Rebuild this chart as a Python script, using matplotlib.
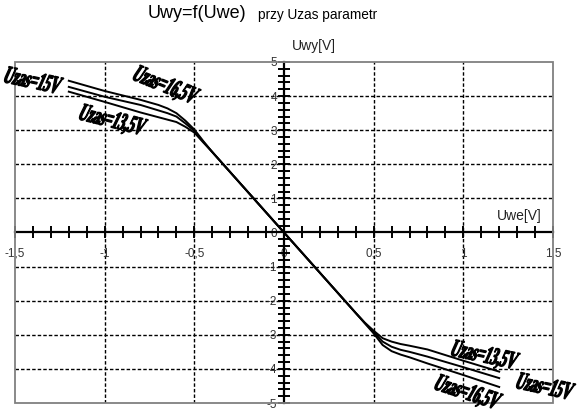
import matplotlib
matplotlib.use("Agg")
import matplotlib.pyplot as plt
import numpy as np
from matplotlib.textpath import TextPath
from matplotlib.patches import PathPatch, Rectangle
from matplotlib.font_manager import FontProperties
import matplotlib.transforms as mtransforms
from matplotlib.ticker import MultipleLocator, FixedLocator, FixedFormatter

# ---- data ----
uwe = [-1.2, -1.0, -0.8, -0.7, -0.65, -0.6, -0.55, -0.5, -0.45, -0.4, -0.2, 0.0,
       0.2, 0.4, 0.45, 0.5, 0.55, 0.6, 0.65, 0.7, 0.8, 1.0, 1.2]
uwy_16_5 = [4.45, 4.15, 3.89, 3.74, 3.64, 3.50, 3.28, 3.02, 2.68, 2.36, 1.18, 0.0,
            -1.18, -2.36, -2.66, -2.96, -3.30, -3.48, -3.58, -3.66, -3.84, -4.18, -4.53]
uwy_15 = [4.27, 3.98, 3.74, 3.58, 3.50, 3.40, 3.20, 2.98, 2.66, 2.36, 1.18, 0.0,
          -1.18, -2.36, -2.65, -2.92, -3.20, -3.35, -3.44, -3.50, -3.64, -3.95, -4.27]
uwy_13_5 = [4.13, 3.83, 3.52, 3.38, 3.31, 3.24, 3.10, 2.93, 2.64, 2.36, 1.18, 0.0,
            -1.18, -2.36, -2.64, -2.88, -3.10, -3.20, -3.27, -3.32, -3.43, -3.76, -4.08]

xtick_vals = [-1.5, -1.0, -0.5, 0.0, 0.5, 1.0, 1.5]
xtick_labels = ["-1,5", "-1", "-0,5", "0", "0,5", "1", "1,5"]
ytick_vals = [-5, -4, -3, -2, -1, 0, 1, 2, 3, 4, 5]
ytick_labels = [str(v) for v in ytick_vals]

# label texts, positions (data), rotation
curve_labels = ["Uzas=15V", "Uzas=16,5V", "Uzas=13,5V",
                "Uzas=13,5V", "Uzas=16,5V", "Uzas=15V"]
label_x = [-1.40, -0.664, -0.96, 1.115, 1.02, 1.455]
label_y = [4.47, 4.30, 3.27, -3.62, -4.71, -4.50]
label_rot = [-12, -22, -14, -12, -18, -12]

# ---- figure ----
fig = plt.figure(figsize=(5.79, 4.15), dpi=100)
ax = fig.add_axes([15/579, 12/415, (553-15)/579, (403-62)/415])
ax.set_xlim(-1.5, 1.5)
ax.set_ylim(-5, 5)

# grid
for gx in [-1.0, -0.5, 0.5, 1.0]:
    ax.axvline(gx, color="black", lw=1.0, ls=(0, (2.5, 1.5)), zorder=1)
for gy in [-4, -3, -2, -1, 1, 2, 3, 4]:
    ax.axhline(gy, color="black", lw=1.0, ls=(0, (2.5, 1.5)), zorder=1)

# curves
for ys in (uwy_16_5, uwy_15, uwy_13_5):
    ax.plot(uwe, ys, color="black", lw=1.4, zorder=3, solid_joinstyle="round")

# spines at zero
for s in ("top", "right"):
    ax.spines[s].set_visible(False)
ax.spines["left"].set_position(("data", 0))
ax.spines["bottom"].set_position(("data", 0))
ax.spines["left"].set_linewidth(1.6)
ax.spines["bottom"].set_linewidth(1.6)
ax.spines["left"].set_zorder(4)
ax.spines["bottom"].set_zorder(4)

ax.xaxis.set_major_locator(FixedLocator(xtick_vals))
ax.xaxis.set_major_formatter(FixedFormatter(xtick_labels))
ax.xaxis.set_minor_locator(MultipleLocator(0.1))
ax.yaxis.set_major_locator(FixedLocator(ytick_vals))
ax.yaxis.set_major_formatter(FixedFormatter(ytick_labels))
ax.yaxis.set_minor_locator(MultipleLocator(0.2))

ax.tick_params(axis="x", which="both", direction="inout", length=8, width=1.4,
               color="black", labelsize=8.5, labelcolor="#333333", pad=7)
ax.tick_params(axis="y", which="both", direction="inout", length=8, width=1.4,
               color="black", labelsize=8.5, labelcolor="#333333", pad=1)
for lab in ax.get_xticklabels():
    lab.set_fontfamily("Liberation Sans")
for lab in ax.get_yticklabels():
    lab.set_fontfamily("Liberation Sans")

# gray frame
ax.add_patch(Rectangle((0, 0), 1, 1, transform=ax.transAxes, fill=False,
                       edgecolor="#808080", lw=1.3, clip_on=False, zorder=5))

# curve labels as compressed text paths
fp = FontProperties(family="Liberation Serif", weight="bold")
px_size = 25
for txt, lx, ly, rot in zip(curve_labels, label_x, label_y, label_rot):
    tp = TextPath((0, 0), txt, size=px_size, prop=fp)
    bb = tp.get_extents()
    cx, cy = (bb.x0 + bb.x1) / 2, (bb.y0 + bb.y1) / 2
    tr = (mtransforms.Affine2D().translate(-cx, -cy).scale(0.52, 1.0)
          .skew_deg(12, 0).rotate_deg(rot)
          + mtransforms.ScaledTranslation(lx, ly, ax.transData))
    patch = PathPatch(tp, transform=tr, facecolor="black", edgecolor="black",
                      lw=0.9, clip_on=False, zorder=6)
    ax.add_artist(patch)

# titles and axis labels
fig.text(148/579, 1 - 14/415, "Uwy=f(Uwe)", fontsize=13, family="Liberation Sans",
         va="center", ha="left")
fig.text(258/579, 1 - 15/415, "przy Uzas parametr", fontsize=9.8,
         family="Liberation Sans", va="center", ha="left")
fig.text(292/579, 1 - 46/415, "Uwy[V]", fontsize=10, family="Liberation Sans",
         va="center", ha="left", color="#222222")
fig.text(497/579, 1 - 216/415, "Uwe[V]", fontsize=10, family="Liberation Sans",
         va="center", ha="left", color="#222222")

fig.savefig("out.png", dpi=100)
